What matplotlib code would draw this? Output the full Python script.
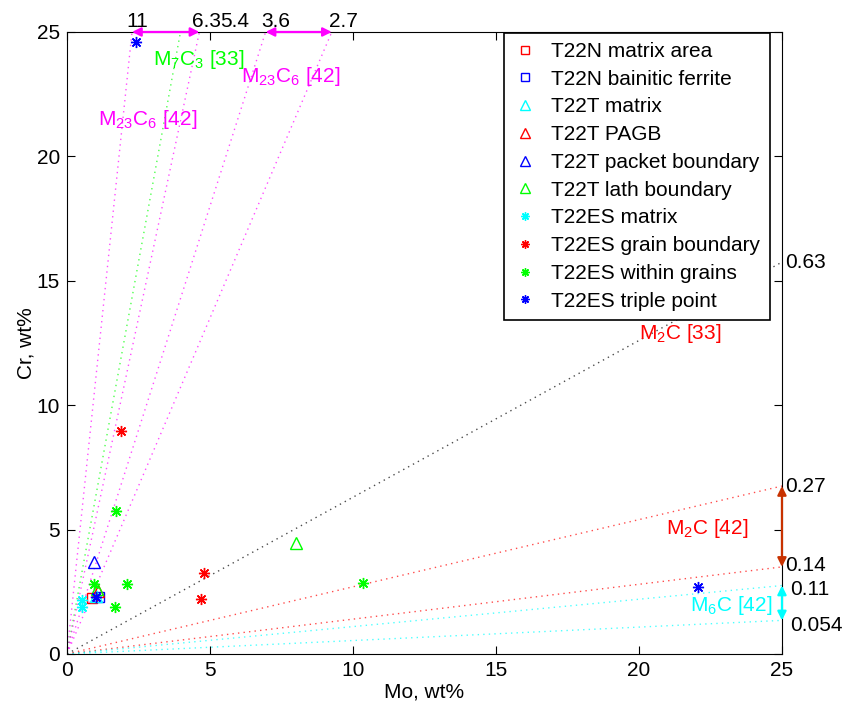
import matplotlib
matplotlib.use("Agg")
import matplotlib.pyplot as plt
import numpy as np

plt.rcParams['font.family'] = ['Liberation Sans', 'DejaVu Sans']
plt.rcParams['mathtext.fontset'] = 'custom'
plt.rcParams['mathtext.rm'] = 'Liberation Sans'
plt.rcParams['mathtext.it'] = 'Liberation Sans:italic'
plt.rcParams['mathtext.bf'] = 'Liberation Sans:bold'

# ---- data ----
t22n_matrix_mo = [0.88]; t22n_matrix_cr = [2.24]
t22n_bf_mo = [1.13]; t22n_bf_cr = [2.30]
t22t_matrix_mo = [1.02]; t22t_matrix_cr = [2.32]
t22t_pagb_mo = [1.07]; t22t_pagb_cr = [2.53]
t22t_packet_mo = [0.93]; t22t_packet_cr = [3.68]
t22t_lath_mo = [1.05, 8.0]; t22t_lath_cr = [2.62, 4.46]
t22es_matrix_mo = [0.52, 0.52]; t22es_matrix_cr = [2.16, 1.88]
t22es_gb_mo = [1.89, 4.79, 4.69]; t22es_gb_cr = [8.96, 3.26, 2.21]
t22es_wg_mo = [1.71, 2.10, 1.68, 0.95, 10.35]; t22es_wg_cr = [5.75, 2.81, 1.89, 2.80, 2.85]
t22es_tp_mo = [2.41, 22.06, 1.02]; t22es_tp_cr = [24.6, 2.69, 2.30]

# Cr/Mo ratio lines
top_ratios = [11, 6.3, 5.4, 3.6, 2.7]
top_labels = ['11', '6.3', '5.4', '3.6', '2.7']
top_colors = ['magenta', 'lime', 'magenta', 'magenta', 'magenta']
right_ratios = [0.63, 0.27, 0.14, 0.11, 0.054]
right_labels = ['0.63', '0.27', '0.14', '0.11', '0.054']
right_colors = ['black', 'red', 'red', 'cyan', 'cyan']

LIM = 25

# label layout (offsets only)
top_label_dx = [0.2, 0.9, 1.25, 0.35, 0.4]
right_label_dx = [0.1, 0.1, 0.1, 0.3, 0.3]
right_label_dy = [0.0, 0.0, 0.05, -0.15, -0.2]

fig = plt.figure(figsize=(8.46, 7.06), dpi=100)
ax = fig.add_axes([0.0792, 0.0737, 0.8451, 0.881])

dots = (0, (1, 3))
for r, c in zip(top_ratios, top_colors):
    ax.plot([0, LIM / r], [0, LIM], color=c, ls=dots, lw=1, alpha=0.7)
for r, c in zip(right_ratios, right_colors):
    ax.plot([0, LIM], [0, LIM * r], color=c, ls=dots, lw=1, alpha=0.7)

sq = dict(marker='s', ls='none', mfc='none', ms=7, mew=1.0)
tri = dict(marker='^', ls='none', mfc='none', ms=9, mew=1.0)
st = dict(marker=(8, 2, 0), ls='none', ms=8, mew=1.0)

ax.plot(t22n_matrix_mo, t22n_matrix_cr, color='red', label='T22N matrix area', **sq)
ax.plot(t22n_bf_mo, t22n_bf_cr, color='blue', label='T22N bainitic ferrite', **sq)
ax.plot(t22t_matrix_mo, t22t_matrix_cr, color='cyan', label='T22T matrix', **tri)
ax.plot(t22t_pagb_mo, t22t_pagb_cr, color='red', label='T22T PAGB', **tri)
ax.plot(t22t_packet_mo, t22t_packet_cr, color='blue', label='T22T packet boundary', **tri)
ax.plot(t22t_lath_mo, t22t_lath_cr, color='lime', label='T22T lath boundary', **tri)
ax.plot(t22es_matrix_mo, t22es_matrix_cr, color='cyan', label='T22ES matrix', **st)
ax.plot(t22es_gb_mo, t22es_gb_cr, color='red', label='T22ES grain boundary', **st)
ax.plot(t22es_wg_mo, t22es_wg_cr, color='lime', label='T22ES within grains', **st)
ax.plot(t22es_tp_mo, t22es_tp_cr, color='blue', label='T22ES triple point', **st)

fs = 15
# top labels
for r, lab, dx in zip(top_ratios, top_labels, top_label_dx):
    ax.text(LIM / r + dx, LIM + 0.05, lab, ha='center', va='bottom', fontsize=fs, clip_on=False)
# right labels
for r, lab, dx, dy in zip(right_ratios, right_labels, right_label_dx, right_label_dy):
    ax.text(LIM + dx, LIM * r + dy, lab, ha='left', va='center', fontsize=fs, clip_on=False)

# arrows
ap = dict(arrowstyle='<|-|>', lw=1.6, mutation_scale=13, shrinkA=0, shrinkB=0)
ax.annotate('', xy=(LIM / 11, LIM), xytext=(LIM / 5.4, LIM),
            arrowprops=dict(color='magenta', **ap), annotation_clip=False)
ax.annotate('', xy=(LIM / 3.6, LIM), xytext=(LIM / 2.7, LIM),
            arrowprops=dict(color='magenta', **ap), annotation_clip=False)
ax.annotate('', xy=(LIM, LIM * 0.27), xytext=(LIM, LIM * 0.14),
            arrowprops=dict(color='#c83200', **ap), annotation_clip=False)
ax.annotate('', xy=(LIM, LIM * 0.11), xytext=(LIM, LIM * 0.054),
            arrowprops=dict(color='cyan', **ap), annotation_clip=False)

# phase labels
ax.text(1.1, 21.5, r'M$_{23}$C$_6$ [42]', color='magenta', fontsize=fs, va='center')
ax.text(3.0, 23.9, r'M$_7$C$_3$ [33]', color='lime', fontsize=fs, va='center')
ax.text(6.1, 23.2, r'M$_{23}$C$_6$ [42]', color='magenta', fontsize=fs, va='center')
ax.text(20.0, 12.9, r'M$_2$C [33]', color='red', fontsize=fs, va='center')
ax.text(20.95, 5.05, r'M$_2$C [42]', color='red', fontsize=fs, va='center')
ax.text(21.8, 1.95, r'M$_6$C [42]', color='cyan', fontsize=fs, va='center')

ax.set_xlim(0, LIM)
ax.set_ylim(0, LIM)
ax.set_xticks(range(0, 26, 5))
ax.set_yticks(range(0, 26, 5))
ax.tick_params(direction='in', top=True, right=True, labelsize=fs, length=6, pad=5)
ax.set_xlabel('Mo, wt%', fontsize=fs, labelpad=2)
ax.set_ylabel('Cr, wt%', fontsize=fs, labelpad=1)

leg = ax.legend(loc='upper right', bbox_to_anchor=(0.983, 0.999), borderaxespad=0,
                fontsize=fs, fancybox=False, edgecolor='black', framealpha=1,
                handlelength=1.2, labelspacing=0.42, markerscale=0.75,
                borderpad=0.45, handletextpad=0.65)
leg.get_frame().set_linewidth(1.2)

fig.savefig('out.png', dpi=100)
